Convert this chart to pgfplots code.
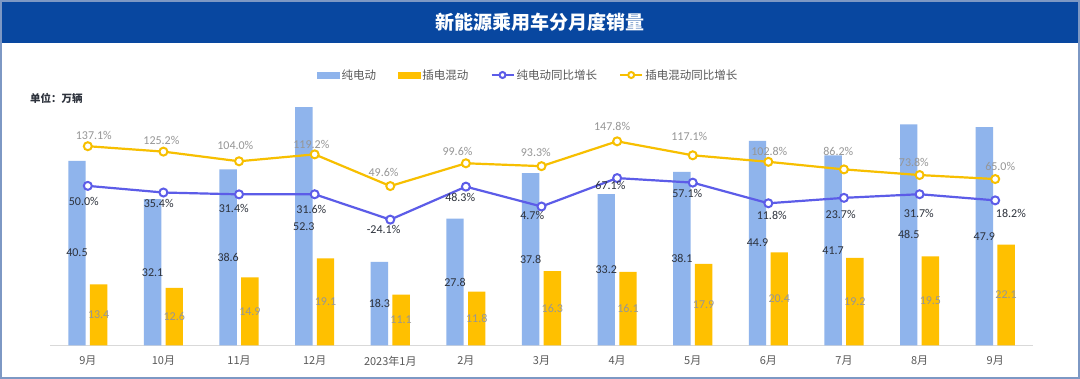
\documentclass[border=0pt]{standalone}
\usepackage{fontspec}
\setmainfont{Carlito}
\newfontfamily\cjk{Noto Sans CJK SC}
\usepackage{pgfplots}
\pgfplotsset{compat=1.18}
\usepackage{pgfplotstable}
\definecolor{banner}{RGB}{8,71,160}
\definecolor{bev}{RGB}{143,180,236}
\definecolor{phev}{RGB}{255,192,0}
\definecolor{bevline}{RGB}{92,92,232}
\definecolor{phevline}{RGB}{247,191,0}
\definecolor{framec}{RGB}{125,152,196}
\definecolor{darklab}{RGB}{45,50,60}
\definecolor{graylab}{RGB}{150,150,150}
\definecolor{ticklab}{RGB}{89,89,89}
\definecolor{axisgray}{RGB}{217,217,217}

\pgfplotsset{
  linelegend/.style={legend image code/.code={\draw[mark repeat=2, mark phase=2, ##1, mark size=3bp] plot coordinates {(0bp,0bp)(11bp,0bp)(22bp,0bp)};}},
}

\pgfplotstableread{
x bev phev bevg phevg bdx bdy pdx pdy
0 40.5 13.4 50.0 137.1 -4 -15.6 6 10.6
1 32.1 12.6 35.4 125.2 -4.7 -10.6 -2 10.7
2 38.6 14.9 31.4 104.0 -5.3 -14 -3.7 15.7
3 52.3 19.1 31.6 119.2 -3.3 -15 -3.3 10
4 18.3 11.1 -24.1 49.6 -6.7 -10 -6.7 13.4
5 27.8 11.8 48.3 99.6 -5.7 -11.3 -8.4 12.3
6 37.8 16.3 4.7 93.3 -9.3 -9.4 -5.7 13.4
7 33.2 16.1 67.1 147.8 -6.7 -7 -5 15
8 38.1 17.9 57.1 117.1 -5.4 -11.3 -3.4 18.6
9 44.9 20.4 11.8 102.8 3.4 -11.7 1 10.7
10 41.7 19.2 23.7 86.2 -3.3 -17 -5.7 18
11 48.5 19.5 31.7 73.8 -0.7 -19 -5.7 12.3
12 47.9 22.1 18.2 65.0 15.7 -12.6 5 12.7
}\data

\begin{document}
\begin{tikzpicture}
\useasboundingbox (0bp,0bp) rectangle (1080bp,379bp);
\fill[white] (0bp,0bp) rectangle (1080bp,379bp);
\fill[banner] (0bp,336.3bp) rectangle (1080bp,379bp);
\draw[framec, line width=2bp] (1bp,1bp) rectangle (1079bp,378bp);
\node[text=white, font=\cjk\bfseries\fontsize{19bp}{22bp}\selectfont] at (540bp,357bp) {新能源乘用车分月度销量};
\node[anchor=west, inner sep=0pt, text=darklab, font=\cjk\bfseries\fontsize{10.5bp}{12bp}\selectfont] at (30bp,281bp) {单位：万辆};

\begin{axis}[
  at={(50bp,33.7bp)}, anchor=south west,
  width=983bp, height=273.3bp, scale only axis,
  xmin=-0.5, xmax=12.5, ymin=0, ymax=60,
  axis x line*=bottom, axis y line=none,
  x axis line style={draw=axisgray, line width=1bp},
  xtick={0,...,12}, ytick=\empty,
  xticklabels={9月,10月,11月,12月,2023年1月,2月,3月,4月,5月,6月,7月,8月,9月},
  major tick length=0pt,
  xticklabel style={font=\cjk\fontsize{11bp}{13bp}\selectfont, text=ticklab, yshift=-7bp},
  /pgf/number format/.cd, fixed, fixed zerofill, precision=1, assume math mode=true,
]
\addplot[ybar, bar width=17.4bp, bar shift=-10.85bp, fill=bev, draw=none,
  nodes near coords,
  visualization depends on={rawy \as \rawy},
  every node near coord/.append style={anchor=center, xshift=-10.85bp, yshift={-\rawy*2.2775bp},
     font=\fontsize{12bp}{14bp}\selectfont, text=darklab}]
  table[x=x, y=bev]{\data};
\addplot[ybar, bar width=17.4bp, bar shift=10.85bp, fill=phev, draw=none,
  nodes near coords,
  visualization depends on={rawy \as \rawy},
  every node near coord/.append style={anchor=center, xshift=10.85bp, yshift={-\rawy*2.2775bp},
     font=\fontsize{12bp}{14bp}\selectfont, text=graylab}]
  table[x=x, y=phev]{\data};
\end{axis}

\begin{axis}[
  at={(50bp,33.7bp)}, anchor=south west,
  width=983bp, height=273.3bp, scale only axis,
  xmin=-0.5, xmax=12.5, ymin=-300, ymax=300,
  hide axis, clip=false,
  /pgf/number format/.cd, fixed, fixed zerofill, precision=1, assume math mode=true,
  /pgfplots/.cd,
  legend columns=4,
  legend style={at={(0.4865,0.989)}, anchor=center, draw=none, fill=none,
    font=\cjk\fontsize{11.5bp}{13bp}\selectfont, text=ticklab,
    /tikz/every even column/.append style={column sep=20bp}},
]
\addlegendimage{legend image code/.code={\fill[bev] (0bp,-3.3bp) rectangle (22bp,3.3bp);}}
\addlegendentry{纯电动}
\addlegendimage{legend image code/.code={\fill[phev] (0bp,-3.3bp) rectangle (22bp,3.3bp);}}
\addlegendentry{插电混动}
\addplot[color=bevline, line width=2.2bp, mark=*, mark size=4bp,
  mark options={fill=white, draw=bevline, line width=2bp},
  linelegend,
  nodes near coords={\pgfmathprintnumber{\pgfplotspointmeta}\%},
  visualization depends on={\thisrow{bdx} \as \dx},
  visualization depends on={\thisrow{bdy} \as \dy},
  every node near coord/.append style={anchor=center, xshift=\dx bp, yshift=\dy bp,
     font=\fontsize{12bp}{14bp}\selectfont, text=darklab}]
  table[x=x, y=bevg]{\data};
\addlegendentry{纯电动同比增长}
\addplot[color=phevline, line width=2.2bp, mark=*, mark size=4bp,
  mark options={fill=white, draw=phevline, line width=2bp},
  linelegend,
  nodes near coords={\pgfmathprintnumber{\pgfplotspointmeta}\%},
  visualization depends on={\thisrow{pdx} \as \dx},
  visualization depends on={\thisrow{pdy} \as \dy},
  every node near coord/.append style={anchor=center, xshift=\dx bp, yshift=\dy bp,
     font=\fontsize{12bp}{14bp}\selectfont, text=graylab}]
  table[x=x, y=phevg]{\data};
\addlegendentry{插电混动同比增长}
\end{axis}
\end{tikzpicture}
\end{document}
